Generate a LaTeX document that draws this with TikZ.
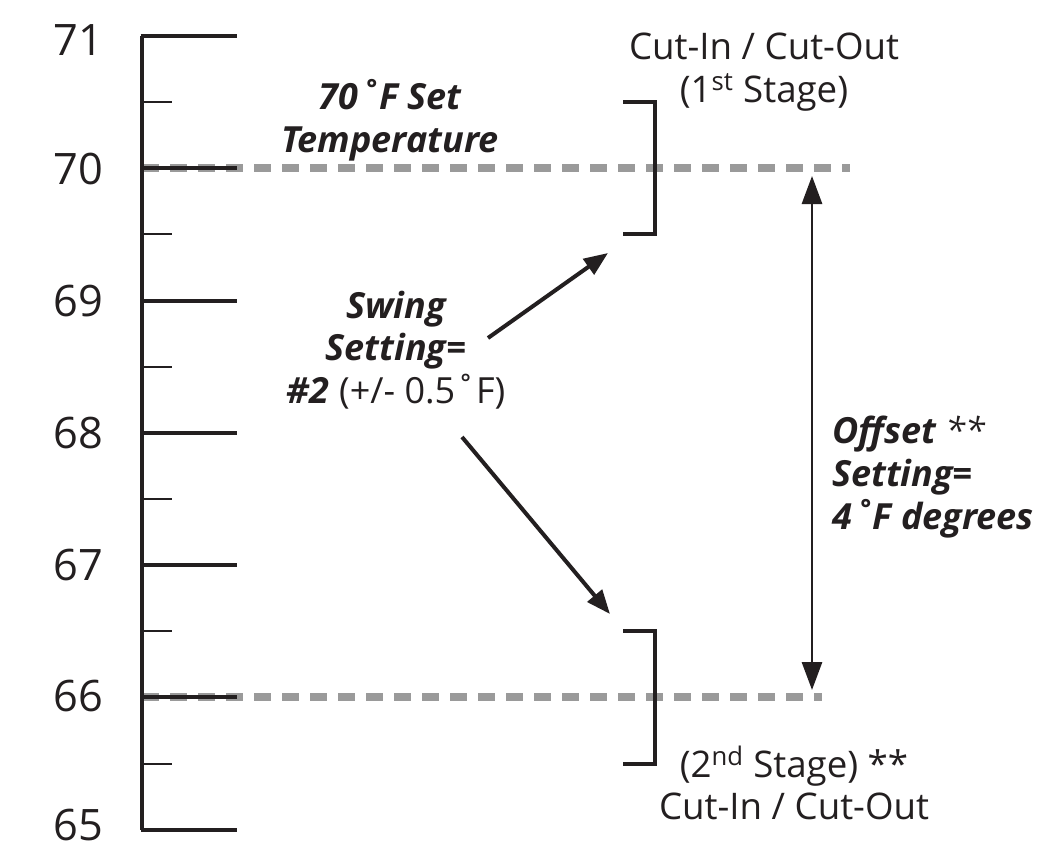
\documentclass[tikz,border=0pt]{standalone}
\usepackage{fontspec}
\setmainfont{Open Sans}
\usetikzlibrary{arrows.meta}
\definecolor{ink}{HTML}{231F20}
\definecolor{dashgray}{HTML}{9A9A9A}
\begin{document}
\begin{tikzpicture}[x=0.75pt,y=-0.75pt,
  axisline/.style={line width=2.3pt, ink},
  minortick/.style={line width=1.6pt, ink},
  bracketline/.style={line width=2.6pt, ink},
  refline/.style={line width=6.5pt, dashgray, dash pattern=on 12.5pt off 8.5pt},
  numlbl/.style={font=\fontsize{32.5}{38}\selectfont, text=ink, inner sep=0pt},
  lbl/.style={font=\fontsize{27.5}{32}\selectfont, text=ink, align=center, inner sep=0pt},
  boldlbl/.style={font=\fontsize{27}{32}\selectfont\bfseries\itshape, text=ink, inner sep=0pt},
  swingarrow/.style={line width=3pt, ink, -{Triangle[length=18pt,width=14pt]}},
  offsetarrow/.style={line width=2.2pt, ink, {Triangle[length=21pt,width=15pt]}-{Triangle[length=21pt,width=15pt]}}
]
\useasboundingbox[fill=white] (0,0) rectangle (1042,849);

% dashed reference lines
\draw[refline] (142,168) -- (850,168);
\draw[refline] (142,697) -- (822,697);

% axis
\draw[axisline] (142,36) -- (142,830);
\foreach \y in {36,168,301,433,565,697,830}
  \draw[axisline] (140.5,\y) -- (237,\y);
\foreach \y in {102,234,367,499,631,764}
  \draw[minortick] (142,\y) -- (172,\y);

% axis labels
\node[numlbl] (l71) at (78,40) {71};
\node[numlbl] (l70) at (78,169) {70};
\node[numlbl] (l69) at (78,301) {69};
\node[numlbl] (l68) at (78,433) {68};
\node[numlbl] (l67) at (78,565) {67};
\node[numlbl] (l66) at (78,696) {66};
\node[numlbl] (l65) at (78,825) {65};

% brackets
\draw[bracketline] (623,102) -- (655,102) -- (655,234) -- (623,234);
\draw[bracketline] (623,631) -- (655,631) -- (655,764) -- (623,764);

% labels
\node[lbl] (cut1) at (764,72) {Cut-In / Cut-Out\\(1\textsuperscript{st} Stage)};
\node[lbl] (cut2) at (794,783) {(2\textsuperscript{nd} Stage) **\\Cut-In / Cut-Out};
\node[boldlbl, align=center] (setp) at (390,120) {70˚F Set\\Temperature};
\node[lbl, font=\fontsize{27}{32}\selectfont] (swing) at (396,350) {{\bfseries\itshape Swing}\\{\bfseries\itshape Setting=}\\{\bfseries\itshape \#2} (+/- 0.5˚F)};
\node[boldlbl, align=left, anchor=west] (offs) at (832,477) {Offset {\mdseries **}\\Setting=\\4˚F degrees};

% arrows
\coordinate (s1a) at (488,338);
\coordinate (s1b) at (608,253);
\coordinate (s2a) at (462,437);
\coordinate (s2b) at (610,614);
\coordinate (oa) at (812,176);
\coordinate (ob) at (812,690);
\draw[swingarrow] (s1a) -- (s1b);
\draw[swingarrow] (s2a) -- (s2b);
\draw[offsetarrow] (oa) -- (ob);
\end{tikzpicture}
\end{document}
